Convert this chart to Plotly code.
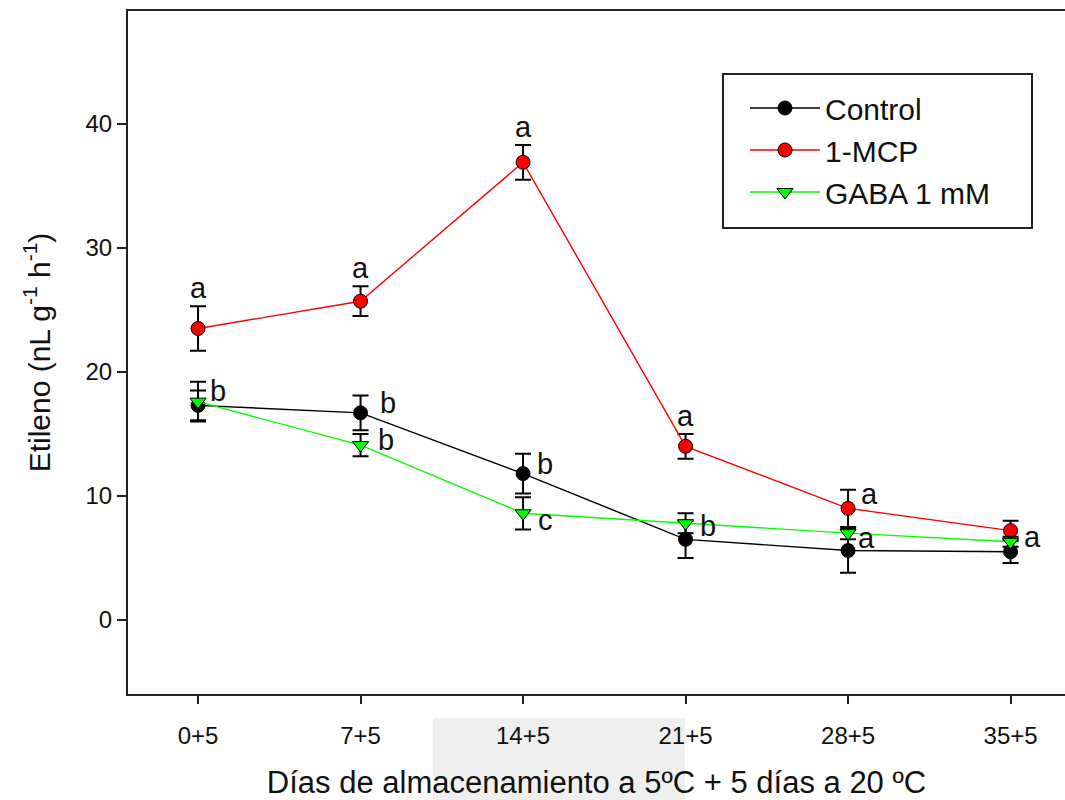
import plotly.graph_objects as go

# ---------------- data ----------------
categories = ["0+5", "7+5", "14+5", "21+5", "28+5", "35+5"]

control_mean = [17.3, 16.7, 11.8, 6.5, 5.6, 5.5]
control_err = [1.2, 1.4, 1.6, 1.5, 1.8, 0.9]

mcp_mean = [23.5, 25.7, 36.9, 14.0, 9.0, 7.2]
mcp_err = [1.8, 1.2, 1.4, 1.0, 1.5, 0.8]

gaba_mean = [17.6, 14.1, 8.6, 7.8, 7.0, 6.3]
gaba_err = [1.6, 0.9, 1.3, 0.8, 0.5, 0.4]

control_letters = ["b", "b", "b", "", "a", ""]
mcp_letters = ["a", "a", "a", "a", "a", "a"]
gaba_letters = ["", "b", "c", "b", "", ""]

y_ticks = [0, 10, 20, 30, 40]

# ---------------- styles ----------------
FONT = "Liberation Sans, Arial, sans-serif"
AXC = "#222222"

# letter placement: "above" -> over the upper error cap; otherwise (dx, dy) pixel shift from the point
control_place = [(20, 14), (27, 10), (22, 10), None, (18, 13), None]
mcp_place = ["above", "above", "above", "above", (21, 14), (22, -6)]
gaba_place = [None, (25, 5), (22, -7), (22, -3), None, None]

fig = go.Figure()

def add_series(name, mean, err, color, symbol):
    fig.add_trace(go.Scatter(
        x=categories, y=mean, name=name, mode="lines+markers",
        legendgroup=name,
        line=dict(color=color, width=1.4),
        marker=dict(symbol=symbol, size=14, color=color,
                    line=dict(color="black", width=1)),
        error_y=dict(type="data", array=err, visible=True,
                     color="black", thickness=2, width=8),
    ))

add_series("Control", control_mean, control_err, "black", "circle")
add_series("1-MCP", mcp_mean, mcp_err, "#ff0000", "circle")
add_series("GABA 1 mM", gaba_mean, gaba_err, "#00ff00", "triangle-down")

annotations = []
def add_letters(letters, mean, err, places):
    for i, (lt, m, e, p) in enumerate(zip(letters, mean, err, places)):
        if not lt or p is None:
            continue
        if p == "above":
            annotations.append(dict(x=categories[i], y=m + e, xref="x", yref="y",
                                    text=lt, showarrow=False, yanchor="middle",
                                    xanchor="center", yshift=18,
                                    font=dict(family=FONT, size=29, color="#111111")))
        else:
            dx, dy = p
            annotations.append(dict(x=categories[i], y=m, xref="x", yref="y",
                                    text=lt, showarrow=False, yanchor="middle",
                                    xanchor="center", xshift=dx, yshift=dy,
                                    font=dict(family=FONT, size=29, color="#111111")))

add_letters(control_letters, control_mean, control_err, control_place)
add_letters(mcp_letters, mcp_mean, mcp_err, mcp_place)
add_letters(gaba_letters, gaba_mean, gaba_err, gaba_place)

# plot area geometry (pixels) used for paper-coord shapes
L, R, T, B = 128, 1065, 11, 694
PW, PH = R - L, B - T
def px(x):
    return (x - L) / PW
def py(y):
    return (B - y) / PH

shapes = [
    # legend frame
    dict(type="rect", xref="paper", yref="paper",
         x0=px(723), x1=px(1032), y0=py(228), y1=py(74),
         line=dict(color=AXC, width=2), fillcolor="rgba(0,0,0,0)"),
    # light grey watermark block behind the x title
    dict(type="rect", xref="paper", yref="paper", layer="below",
         x0=px(433), x1=px(685), y0=py(800), y1=py(718),
         line=dict(width=0), fillcolor="#efefef"),
]

fig.update_layout(
    width=1065, height=800,
    margin=dict(l=L, r=1065 - R, t=T, b=800 - B, autoexpand=False),
    paper_bgcolor="white", plot_bgcolor="white",
    font=dict(family=FONT, color="#111111"),
    showlegend=True,
    legend=dict(x=px(745), y=py(82), xanchor="left", yanchor="top",
                bgcolor="rgba(0,0,0,0)", borderwidth=0,
                itemwidth=70,
                font=dict(family=FONT, size=30, color="#111111"),
                tracegroupgap=0),
    annotations=annotations,
    shapes=shapes,
)

fig.update_xaxes(
    type="category", range=[-0.431, 5.335],
    showline=True, linecolor=AXC, linewidth=2, mirror=True,
    ticks="outside", ticklen=8, tickwidth=2, tickcolor=AXC,
    showgrid=False, zeroline=False,
    tickfont=dict(family=FONT, size=24, color="#111111"),
    ticklabelstandoff=11,
    title=dict(text="Días de almacenamiento a 5ºC + 5 días a 20 ºC",
               font=dict(family=FONT, size=31, color="#111111"), standoff=25),
)
fig.update_yaxes(
    range=[-5.97, 49.1], tickvals=y_ticks,
    showline=True, linecolor=AXC, linewidth=2, mirror=False,
    ticks="outside", ticklen=9, tickwidth=2, tickcolor=AXC,
    showgrid=False, zeroline=False,
    tickfont=dict(family=FONT, size=24, color="#111111"),
    title=dict(text="Etileno (nL g<sup>-1</sup> h<sup>-1</sup>)",
               font=dict(family=FONT, size=30, color="#111111"), standoff=26),
)

fig.write_html("out.html")
